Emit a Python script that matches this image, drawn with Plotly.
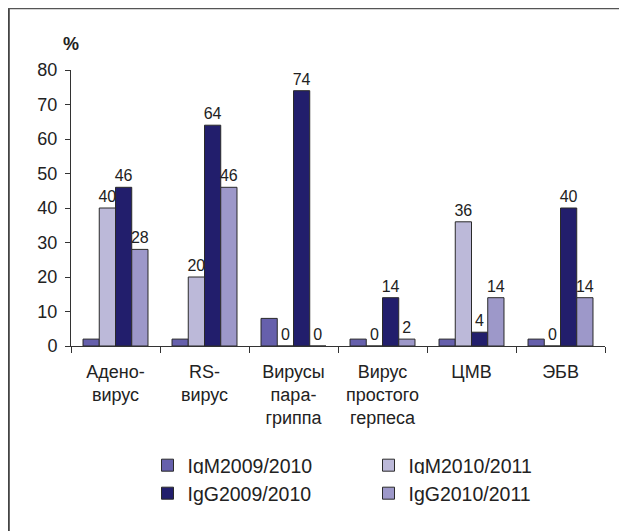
import plotly.graph_objects as go

categories = ["Адено-<br>вирус", "RS-<br>вирус", "Вирусы<br>пара-<br>гриппа",
              "Вирус<br>простого<br>герпеса", "ЦМВ", "ЭБВ"]
series_names = ["IgM2009/2010", "IgM2010/2011", "IgG2009/2010", "IgG2010/2011"]
igm_0910 = [2, 2, 8, 2, 2, 2]
igm_1011 = [40, 20, 0, 0, 36, 0]
igg_0910 = [46, 64, 74, 14, 4, 40]
igg_1011 = [28, 46, 0, 2, 14, 14]
y_ticks = [0, 10, 20, 30, 40, 50, 60, 70, 80]

colors = ["#6660ac", "#bcb9d9", "#221e6c", "#9d98c9"]
FONT = "Liberation Sans, Arial, Helvetica, sans-serif"

W, H = 619, 523
L, T, R, B = 63, 62, 22, 185
PW, PH = W - L - R, H - T - B

def px_x(x):
    return (x - L) / PW

def px_y(y):
    return (H - B - y) / PH

fig = go.Figure()
values = [igm_0910, igm_1011, igg_0910, igg_1011]
for i, (name, vals) in enumerate(zip(series_names, values)):
    fig.add_trace(go.Bar(
        x=categories, y=vals, name=name,
        marker=dict(color=colors[i], line=dict(color="#2a2a2a", width=1)),
        text=None if i == 0 else [str(v) for v in vals],
        textposition="outside", constraintext="none",
        textfont=dict(size=16, color="#222222", family=FONT),
        cliponaxis=False,
        legend="legend" if i < 2 else "legend2",
    ))

fig.update_layout(
    width=W, height=H,
    margin=dict(l=L, r=R, t=T, b=B),
    paper_bgcolor="white", plot_bgcolor="white",
    barmode="group", bargap=0.27, bargroupgap=0,
    font=dict(family=FONT, color="#222222", size=18),
    showlegend=True,
    legend=dict(orientation="h", xref="container", yref="container",
                x=139.5/W, y=1-438/H, xanchor="left", yanchor="top",
                entrywidth=176, font=dict(size=19.5, family=FONT), traceorder="normal"),
    legend2=dict(orientation="h", xref="container", yref="container",
                 x=139.5/W, y=1-466/H, xanchor="left", yanchor="top",
                 entrywidth=176, font=dict(size=19.5, family=FONT), traceorder="normal"),
    xaxis=dict(showline=True, linecolor="#333333", linewidth=1,
               ticks="outside", ticklen=6, tickcolor="#333333", tickson="boundaries",
               ticklabelstandoff=9,
               tickfont=dict(size=18, family=FONT), showgrid=False),
    yaxis=dict(range=[0, 80], tickvals=y_ticks, showline=True, linecolor="#333333",
               linewidth=1, ticks="outside", ticklen=5, tickcolor="#333333",
               ticklabelstandoff=4,
               tickfont=dict(size=18, family=FONT), showgrid=False, zeroline=False),
    annotations=[dict(text="<b>%</b>", xref="paper", yref="paper", x=0, y=px_y(36),
                      xanchor="center", yanchor="middle", showarrow=False,
                      font=dict(size=18, family=FONT, color="#222222"))],
    shapes=[
        dict(type="line", xref="paper", yref="paper", x0=px_x(0.8), x1=px_x(0.8),
             y0=px_y(0), y1=px_y(H + 5), line=dict(color="#444444", width=2)),
        dict(type="line", xref="paper", yref="paper", x0=px_x(0), x1=px_x(W + 5),
             y0=px_y(0.6), y1=px_y(0.6), line=dict(color="#555555", width=1.5)),
    ],
)

fig.write_html("out.html")
